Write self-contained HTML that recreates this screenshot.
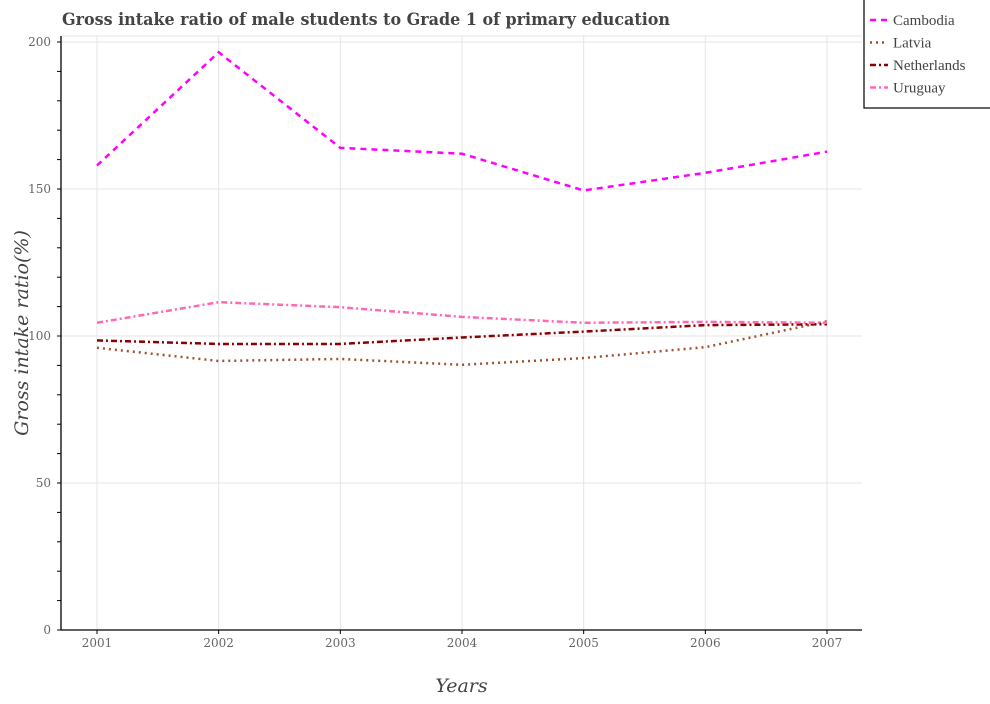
<!DOCTYPE html>
<html><head><meta charset="utf-8"><style>
body{margin:0;background:#fff;font-family:"DejaVu Serif",serif;}
</style></head><body>
<svg width="990" height="700" xmlns="http://www.w3.org/2000/svg">
<text x="62" y="25" font-size="17" font-weight="bold" fill="#444" textLength="608" lengthAdjust="spacingAndGlyphs" font-family="DejaVu Serif, serif">Gross intake ratio of male students to Grade 1 of primary education</text>
<g id="grid"></g><g id="axes"></g><g id="series"></g>
<g>
<rect x="864" y="-2" width="130" height="110" fill="#fff" stroke="#000" stroke-width="1.2"/>
<g id="legend"></g>
</g>
</svg>
<script>
const years=["2001","2002","2003","2004","2005","2006","2007"];
const cambodia=[158,196.5,164,162,149.5,155.5,162.7];
const latvia=[96,91.5,92.2,90.2,92.5,96.2,105];
const netherlands=[98.5,97.3,97.3,99.5,101.5,103.7,104];
const uruguay=[104.5,111.5,109.8,106.5,104.5,104.8,104.5];
const yTicks=[0,50,100,150,200];
const NS="http://www.w3.org/2000/svg";
const L=61,R=862,T=36,B=630;
const x=i=>97+i*(827-97)/(years.length-1);
const y=v=>630-v*2.94;
function mk(t,a,p){const e=document.createElementNS(NS,t);for(const k in a)e.setAttribute(k,a[k]);p.appendChild(e);return e;}
const grid=document.getElementById('grid'),axes=document.getElementById('axes'),ser=document.getElementById('series'),leg=document.getElementById('legend');
mk('line',{x1:L,x2:R,y1:T,y2:T,stroke:'#e5e5e5'},grid);
years.forEach((yr,i)=>{
 const g=mk('line',{x1:x(i),x2:x(i),y1:T,y2:B,stroke:'#e5e5e5'},grid);
 
 
 mk('line',{x1:x(i),x2:x(i),y1:B,y2:B+4,stroke:'#000'},axes);
 const t=mk('text',{x:x(i),y:B+17,'text-anchor':'middle','font-size':12,fill:'#666'},axes);
 t.textContent=yr;
 
 
});
for(let v=0;v<=200;v+=10){mk('line',{x1:L-4,x2:L,y1:y(v),y2:y(v),stroke:'#000'},axes);}
yTicks.forEach(v=>{
 const g=mk('line',{x1:L,x2:R,y1:y(v),y2:y(v),stroke:'#e5e5e5'},grid);
 
 
 const t=mk('text',{x:L-10,y:y(v)+4,'text-anchor':'end','font-size':12,fill:'#666'},axes);
 t.textContent=v;
 
 
});
mk('line',{x1:L,x2:L,y1:T,y2:B,stroke:'#000','stroke-width':1.3},axes);
mk('line',{x1:L,x2:R,y1:B,y2:B,stroke:'#000','stroke-width':1.3},axes);
const xt=mk('text',{x:(L+R)/2,y:692,'text-anchor':'middle','font-size':19,'font-style':'italic',fill:'#444'},axes);
xt.textContent='Years';


const yt=mk('text',{x:0,y:0,transform:'translate(28,333) rotate(-90)','text-anchor':'middle','font-size':19,'font-style':'italic',fill:'#444'},axes);
yt.textContent='Gross intake ratio(%)';


const S=[["Cambodia",cambodia,"#ff00ff","6,5"],["Latvia",latvia,"#a0522d","2,4"],["Netherlands",netherlands,"#8b0000","6,3,2,3"],["Uruguay",uruguay,"#ff69b4","6,3,2,3"]];
S.forEach((s,k)=>{
 const p=mk('polyline',{points:s[1].map((v,i)=>x(i)+','+y(v)).join(' '),fill:'none',stroke:s[2],'stroke-width':2.5,'stroke-dasharray':s[3]},ser);
 
 
 const ly=20+k*22.5;
 mk('line',{x1:870,x2:888,y1:ly,y2:ly,stroke:s[2],'stroke-width':2.5,'stroke-dasharray':s[3]},leg);
 const t=mk('text',{x:893,y:ly+5,'font-size':15,fill:'#444','font-family':'Liberation Serif, serif'},leg);
 t.textContent=s[0];
 
 
});
</script>
</body></html>
